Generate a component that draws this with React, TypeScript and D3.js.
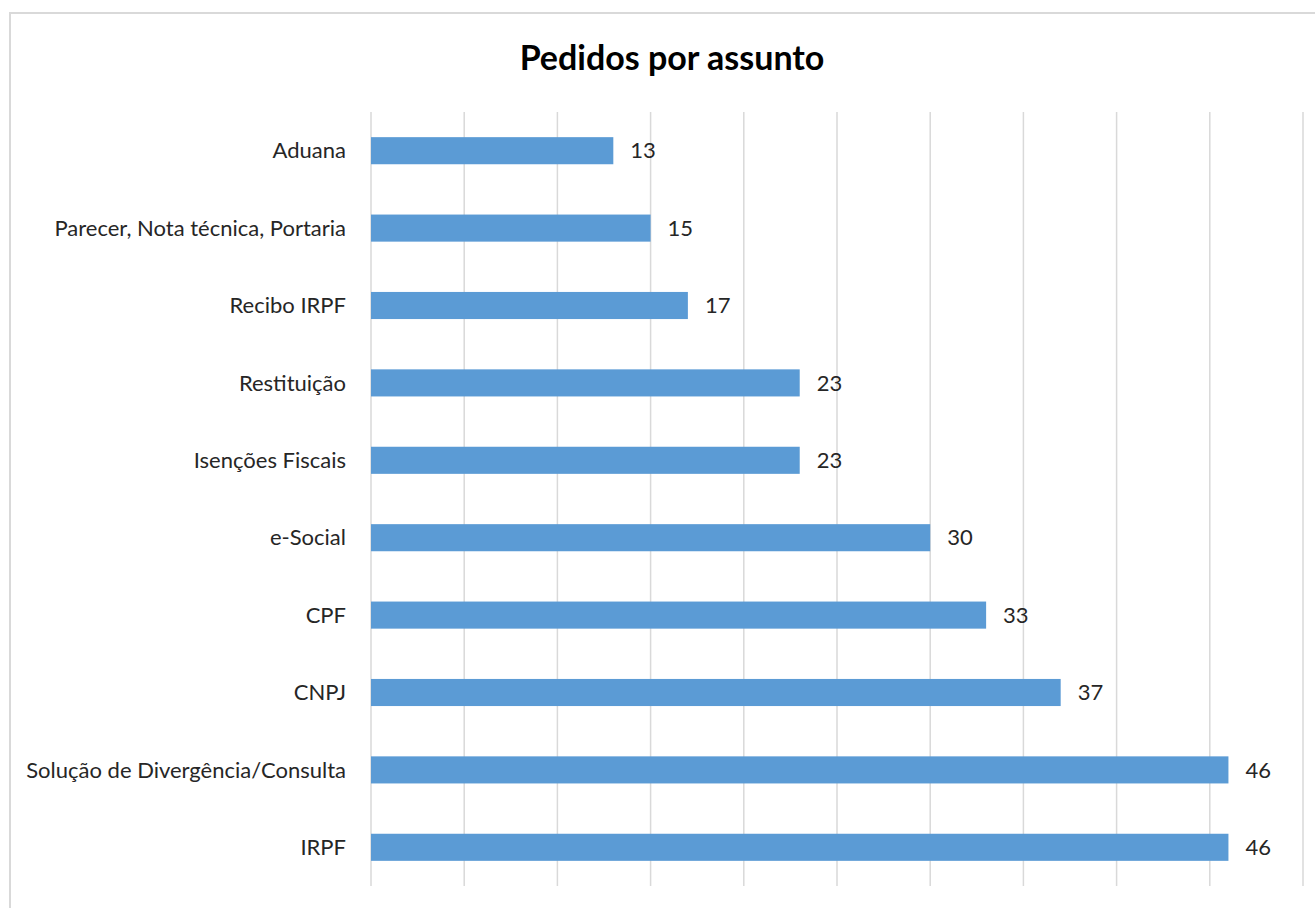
import React from 'react';
import * as d3 from 'd3';

const categories = [
  'Aduana',
  'Parecer, Nota técnica, Portaria',
  'Recibo IRPF',
  'Restituição',
  'Isenções Fiscais',
  'e-Social',
  'CPF',
  'CNPJ',
  'Solução de Divergência/Consulta',
  'IRPF',
];
const values = [13, 15, 17, 23, 23, 30, 33, 37, 46, 46];
const ticks = [0, 5, 10, 15, 20, 25, 30, 35, 40, 45, 50];

const W = 1315, H = 908;
const plot = { left: 371, right: 1303, top: 112, bottom: 886 };
const barColor = '#5B9BD5';
const font = 'Lato, "Open Sans", sans-serif';

export default function App() {
  const x = d3.scaleLinear().domain([0, 50]).range([plot.left, plot.right]);
  const y = d3.scaleBand<string>().domain(categories).range([plot.top, plot.bottom]).paddingInner(0.65).paddingOuter(0.325);

  return (
    <svg width={W} height={H} style={{ position: 'absolute', left: 0, top: 0 }}>
      <rect x={0} y={0} width={W} height={H} fill="#fff" />
      {/* chart frame, cut off at right and bottom */}
      <rect x={10} y={13} width={W} height={H} fill="#fff" stroke="#D9D9D9" strokeWidth={2} />
      <text x={672} y={70} textAnchor="middle" fontFamily={font} fontWeight="bold" fontSize={34} fill="#000">
        Pedidos por assunto
      </text>
      {ticks.map(t => (
        <line key={t} x1={x(t)} x2={x(t)} y1={plot.top} y2={plot.bottom} stroke="#D9D9D9" strokeWidth={1.5} />
      ))}
      {categories.map((c, i) => {
        const yy = y(c)!;
        const bh = y.bandwidth();
        return (
          <g key={c}>
            <rect x={x(0)} y={yy} width={x(values[i]) - x(0)} height={bh} fill={barColor} />
            <text x={plot.left - 25} y={yy + bh / 2} dy="0.35em" textAnchor="end" fontFamily={font} fontSize={22} fill="#262626">
              {c}
            </text>
            <text x={x(values[i]) + 17} y={yy + bh / 2} dy="0.35em" fontFamily={font} fontSize={22} fill="#262626">
              {values[i]}
            </text>
          </g>
        );
      })}
    </svg>
  );
}
